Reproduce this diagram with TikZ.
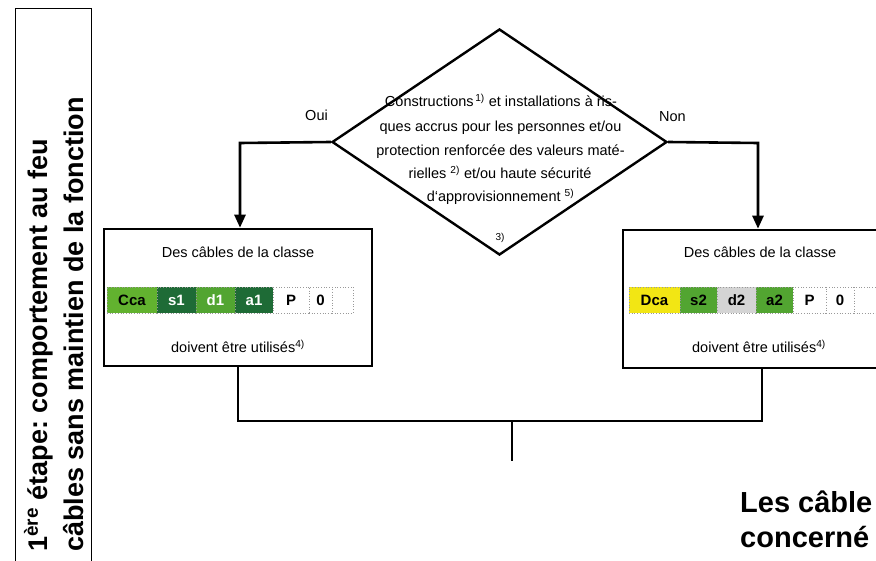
\documentclass[tikz,border=0pt]{standalone}
\usepackage{fontspec}
\setmainfont{Liberation Sans}
\usetikzlibrary{arrows.meta,shapes.geometric}
\definecolor{lgreen}{HTML}{62B22F}
\definecolor{mgreen}{HTML}{52A531}
\definecolor{dgreen}{HTML}{1E6B36}
\definecolor{cyellow}{HTML}{F2E614}
\definecolor{cgray}{HTML}{D4D4D4}
\frenchspacing
\tikzset{
  thick line/.style={line width=2.6pt},
  arr/.style={thick line,-{Triangle[length=13pt,width=11pt]}},
  bigbox/.style={draw,line width=2.6pt,inner sep=0pt},
  txt/.style={font=\fontsize{14.5}{17}\selectfont,inner sep=0pt},
  sml/.style={font=\fontsize{10}{12}\selectfont,inner sep=0pt},
  cell/.style={anchor=west,minimum height=26pt,inner sep=0pt,outer sep=0pt,
    font=\fontsize{15}{15}\selectfont\bfseries,draw=gray!80,dotted,line width=0.7pt},
  bold big/.style={font=\fontsize{27}{35}\selectfont\bfseries,inner sep=0pt},
  bold bottom/.style={font=\fontsize{29}{35}\selectfont\bfseries,inner sep=0pt}
}
\begin{document}
\begin{tikzpicture}[x=1pt,y=-1pt]
\useasboundingbox (0,0) rectangle (876,561);
\clip (0,0) rectangle (876,561);
\fill[white] (0,0) rectangle (876,561);

% left panel
\node[draw,line width=1.3pt,minimum width=76pt,minimum height=580pt,anchor=north west,inner sep=0pt] (panel) at (15,8) {};
\node[bold big,rotate=90,anchor=base west] (p1) at (47,552) {1\textsuperscript{ère} étape: comportement au feu};
\node[bold big,rotate=90,anchor=base west] (p2) at (83,552) {câbles sans maintien de la fonction};

% diamond
\node[draw,shape=diamond,line width=2.4pt,minimum width=335pt,minimum height=226pt,inner sep=0pt] (dia) at (499.5,142) {};
\node[txt,anchor=base] (d1) at (501,107) {Constructions\textsuperscript{\,1)} et installations à ris-};
\node[txt,anchor=base] (d2) at (500.5,132) {ques accrus pour les personnes et/ou};
\node[txt,anchor=base] (d3) at (500.5,156) {protection renforcée des valeurs maté-};
\node[txt,anchor=base] (d4) at (500,179) {rielles \textsuperscript{2)} et/ou haute sécurité};
\node[txt,anchor=base] (d5) at (500.5,202) {d‘approvisionnement \textsuperscript{5)}};
\node[sml,anchor=base] (d6) at (500,241) {3)};

\node[txt,anchor=base east] (oui) at (328,121) {Oui};
\node[txt,anchor=base west] (non) at (659,122) {Non};

% boxes
\node[bigbox,minimum width=268pt,minimum height=137pt] (lbox) at (238,297.5) {};
\node[bigbox,minimum width=278pt,minimum height=138pt] (rbox) at (762,299) {};

\node[txt,anchor=base] (lt1) at (238,258) {Des câbles de la classe};
\node[txt,anchor=base] (lt2) at (238,353) {doivent être utilisés\textsuperscript{4)}};
\node[txt,anchor=base] (rt1) at (760,258) {Des câbles de la classe};
\node[txt,anchor=base] (rt2) at (759,353) {doivent être utilisés\textsuperscript{4)}};

% left cells
\node[cell,fill=lgreen,minimum width=50pt] (a1) at (107,300) {Cca};
\node[cell,fill=dgreen,text=white,minimum width=39pt] (a2) at (a1.east) {s1};
\node[cell,fill=mgreen,text=white,minimum width=39pt] (a3) at (a2.east) {d1};
\node[cell,fill=dgreen,text=white,minimum width=38pt] (a4) at (a3.east) {a1};
\node[cell,fill=white,minimum width=36pt] (a5) at (a4.east) {P};
\node[cell,fill=white,minimum width=23pt] (a6) at (a5.east) {0};
\node[cell,fill=white,minimum width=21pt] (a7) at (a6.east) {};

% right cells
\node[cell,fill=cyellow,minimum width=51pt] (b1) at (629,300) {Dca};
\node[cell,fill=mgreen,minimum width=37pt] (b2) at (b1.east) {s2};
\node[cell,fill=cgray,minimum width=39pt] (b3) at (b2.east) {d2};
\node[cell,fill=mgreen,minimum width=37pt] (b4) at (b3.east) {a2};
\node[cell,fill=white,minimum width=33pt] (b5) at (b4.east) {P};
\node[cell,fill=white,minimum width=28pt] (b6) at (b5.east) {0};
\node[cell,fill=white,minimum width=22pt] (b7) at (b6.east) {};

% connectors
\coordinate (lturn) at (240,143);
\coordinate (rturn) at (758,143);
\draw[arr] (dia.west) -- (lturn) -- (lturn |- lbox.north);
\draw[arr] (dia.east) -- (rturn) -- (rturn |- rbox.north);
\coordinate (mid) at (512,421);
\coordinate (stem) at (512,461);
\draw[thick line] (lbox.south) |- (mid) -| (rbox.south);
\draw[thick line] (mid) -- (stem);

% bottom text (cut at the picture's edge in the reference)
\node[bold bottom,anchor=base west] (bt) at (740,512) {Les câble};
\node[bold bottom,anchor=base west] (bt2) at (740,547) {concerné};
\end{tikzpicture}
\end{document}
